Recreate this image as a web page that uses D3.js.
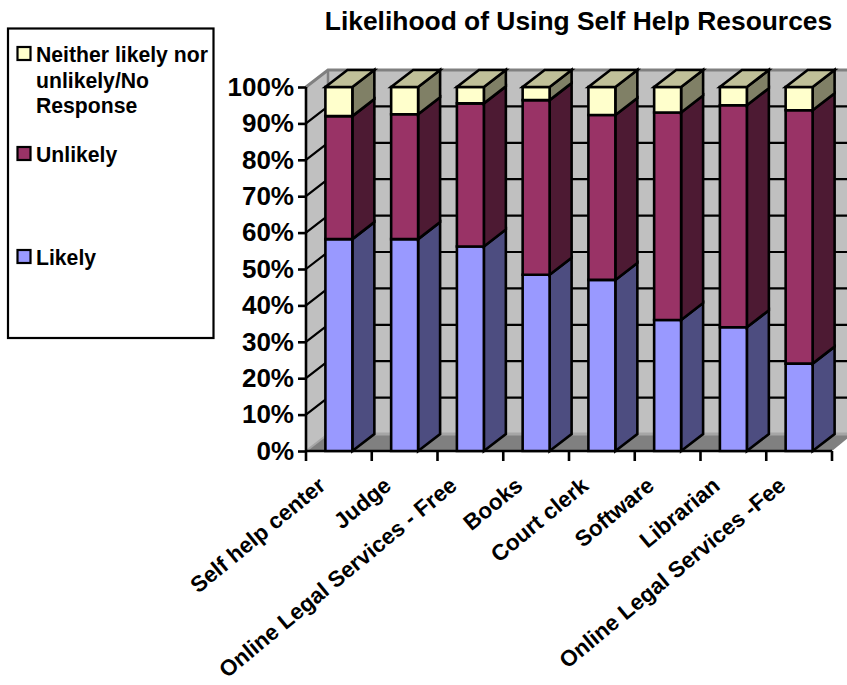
<!DOCTYPE html>
<html>
<head>
<meta charset="utf-8">
<script src="https://cdnjs.cloudflare.com/ajax/libs/d3/7.8.5/d3.min.js"></script>
<style>
html,body{margin:0;padding:0;background:#fff;}
svg{display:block;}
text{font-family:"Liberation Sans",Arial,sans-serif;font-weight:bold;fill:#000;}
</style>
</head>
<body>
<svg id="chart" width="847" height="685"></svg>
<script>
// Survey responses, percent of respondents per resource
const categories = ["Self help center","Judge","Online Legal Services - Free","Books","Court clerk","Software","Librarian","Online Legal Services -Fee"];
const likely   = [58.2, 58.2, 56.2, 48.4, 47, 36, 34, 24];
const unlikely = [33.8, 34.3, 39.3, 48, 45.3, 57, 61, 69.6];
const neither  = [8, 7.5, 4.5, 3.6, 7.7, 7, 5, 6.4];
const seriesNames = ["Likely","Unlikely","Neither"];
const yTicks = [0,10,20,30,40,50,60,70,80,90,100];

const svg = d3.select("#chart");
const W = 847, H = 685;
const frontLeft = 306, frontRight = 832, frontBottom = 451, frontTop = 87;
const dx = 22, dy = -17;

const x = d3.scaleBand().domain(categories).range([frontLeft, frontRight]).paddingInner(0.59).paddingOuter(0.295);
const y = d3.scaleLinear().domain([0,100]).range([frontBottom, frontTop]);

const faces = {
  Likely:   {front:"#9999ff", side:"#4d4d80", top:"#8080c0"},
  Unlikely: {front:"#993366", side:"#4d1a33", top:"#732650"},
  Neither:  {front:"#ffffcc", side:"#808066", top:"#c0c099"}
};
const valuesBySeries = {Likely: likely, Unlikely: unlikely, Neither: neither};
const poly = pts => pts.map(p => p.join(",")).join(" ");
const ink = 2.6;

const plot = svg.append("g");

// Walls and floor of the 3D box
plot.append("polygon").attr("points", poly([[frontLeft+dx,y(100)+dy],[W+2,y(100)+dy],[W+2,y(0)+dy],[frontLeft+dx,y(0)+dy]])).attr("fill","#c0c0c0");
plot.append("polygon").attr("points", poly([[frontLeft,y(100)],[frontLeft+dx,y(100)+dy],[frontLeft+dx,y(0)+dy],[frontLeft,y(0)]])).attr("fill","#c0c0c0");
plot.append("polygon").attr("points", poly([[frontLeft,y(0)],[frontLeft+dx,y(0)+dy],[W+2,y(0)+dy],[W+2,y(0)+dy+3],[frontRight,y(0)]])).attr("fill","#808080");
plot.append("line").attr("x1",frontLeft+dx).attr("x2",W+2).attr("y1",y(0)+dy).attr("y2",y(0)+dy).attr("stroke","#a6a6a6").attr("stroke-width",3);

// Gridlines running along the left wall and across the back wall
yTicks.filter(t => t > 0 && t < 100).forEach(t => {
  plot.append("path").attr("d", `M${frontLeft},${y(t)}L${frontLeft+dx},${y(t)+dy}L${W+2},${y(t)+dy}`)
    .attr("fill","none").attr("stroke","#000").attr("stroke-width",2.2);
});
plot.append("path").attr("d", `M${frontLeft},${y(100)}L${frontLeft+dx},${y(100)+dy}L${W+2},${y(100)+dy}`)
  .attr("fill","none").attr("stroke","#808080").attr("stroke-width",3);
plot.append("line").attr("x1",frontLeft+dx).attr("x2",frontLeft+dx).attr("y1",y(100)+dy).attr("y2",y(0)+dy).attr("stroke","#808080").attr("stroke-width",2.5);
plot.append("line").attr("x1",frontLeft).attr("x2",frontLeft+dx).attr("y1",y(0)).attr("y2",y(0)+dy).attr("stroke","#a6a6a6").attr("stroke-width",2);

// Axes
const yAxis = d3.axisLeft(y).tickValues(yTicks).tickFormat(d => d + "%").tickSize(8).tickPadding(4);
const yG = svg.append("g").attr("transform",`translate(${frontLeft},0)`).call(yAxis);
yG.select(".domain").attr("stroke","#000").attr("stroke-width",ink).attr("d",`M0,${y(100)}V${y(0)}`);
yG.selectAll("line").attr("stroke","#000").attr("stroke-width",ink);
yG.selectAll("text").attr("font-size",26).attr("font-family","Liberation Sans").attr("font-weight","bold").attr("fill","#000");

const xEdges = d3.range(categories.length + 1).map(i => frontLeft + i * (frontRight - frontLeft) / categories.length);
const xG = svg.append("g");
xG.append("line").attr("x1",frontLeft).attr("x2",frontRight).attr("y1",y(0)).attr("y2",y(0)).attr("stroke","#000").attr("stroke-width",ink);
xG.selectAll("line.tick").data(xEdges).join("line").attr("class","tick")
  .attr("x1",d=>d).attr("x2",d=>d).attr("y1",y(0)).attr("y2",y(0)+10).attr("stroke","#000").attr("stroke-width",ink);

// Stacked 3D columns, drawn left to right
const bars = svg.append("g").attr("stroke","#000").attr("stroke-width",ink).attr("stroke-linejoin","miter");
categories.forEach((c,i) => {
  let base = 0;
  const x0 = x(c), x1 = x0 + x.bandwidth();
  seriesNames.forEach((s,k) => {
    const v = valuesBySeries[s][i];
    const y0 = y(base), y1 = y(base + v);
    const col = faces[s];
    bars.append("polygon").attr("points",poly([[x1,y0],[x1+dx,y0+dy],[x1+dx,y1+dy],[x1,y1]])).attr("fill",col.side);
    bars.append("polygon").attr("points",poly([[x0,y0],[x1,y0],[x1,y1],[x0,y1]])).attr("fill",col.front);
    if (k === seriesNames.length - 1) {
      bars.append("polygon").attr("points",poly([[x0,y1],[x1,y1],[x1+dx,y1+dy],[x0+dx,y1+dy]])).attr("fill",col.top);
    }
    base += v;
  });
});

// Slanted category labels, right end anchored below each column
svg.append("g").selectAll("text").data(categories).join("text")
  .attr("text-anchor","end").attr("font-size",22.4)
  .attr("transform",d => `translate(${x(d)+x.bandwidth()/2-12},${frontBottom+37}) rotate(-39.5)`)
  .text(d => d);

// Title
svg.append("text").attr("x",578.5).attr("y",30).attr("text-anchor","middle").attr("font-size",26.4).text("Likelihood of Using Self Help Resources");

// Legend
const legend = svg.append("g");
legend.append("rect").attr("x",8).attr("y",28.5).attr("width",205.5).attr("height",309.5).attr("fill","#fff").attr("stroke","#000").attr("stroke-width",2.2);
const legendRows = [
  {key:"Neither", lines:["Neither likely nor","unlikely/No","Response"], base:62},
  {key:"Unlikely", lines:["Unlikely"], base:162},
  {key:"Likely", lines:["Likely"], base:265}
];
legendRows.forEach(r => {
  legend.append("rect").attr("x",17.5).attr("y",r.base-15).attr("width",13).attr("height",13)
    .attr("fill",faces[r.key].front).attr("stroke","#000").attr("stroke-width",2.2);
  r.lines.forEach((t,j) => {
    legend.append("text").attr("x",36).attr("y",r.base + j*25.5).attr("font-size",21.2).text(t);
  });
});
</script>
</body>
</html>
